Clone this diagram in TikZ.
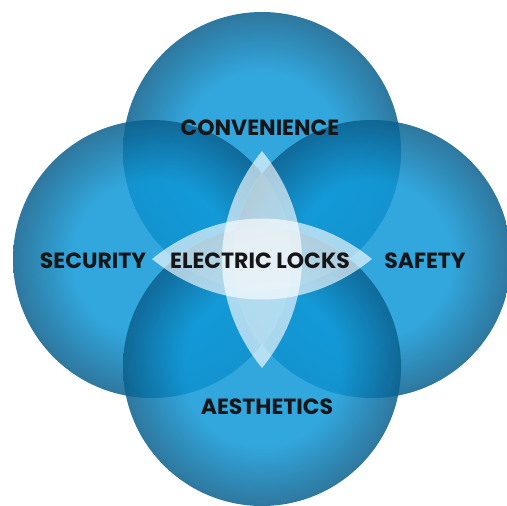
\documentclass[tikz,border=0pt]{standalone}
\usepackage{fontspec}
\setmainfont{Poppins}
\definecolor{ballmid}{RGB}{14,152,216}
\definecolor{balledge}{RGB}{10,96,142}
\definecolor{labeltext}{RGB}{22,22,24}
\pgfdeclareradialshading{ballshade}{\pgfpoint{0bp}{0bp}}{color(0bp)=(ballmid); color(14bp)=(ballmid); color(25bp)=(balledge); color(50bp)=(balledge)}
\tikzset{
  ball/.style={shading=ballshade, fill opacity=.85},
  lens/.style={fill=white, fill opacity=.64},
  word/.style={text=labeltext, font=\bfseries\fontsize{22}{22}\selectfont, inner sep=0pt}
}

\begin{document}
\begin{tikzpicture}[x=1pt,y=-1pt]
      \useasboundingbox (0,0) rectangle (507,506);
      % four circles
      \shade[ball] (262,151) circle(139);
      \shade[ball] (152,259) circle(139);
      \shade[ball] (372,259) circle(139);
      \shade[ball] (262,367) circle(139);
      % the two lenses in the middle
      \coordinate (vtop) at (262,151);
      \coordinate (vbot) at (262,368);
      \coordinate (hleft) at (152,259);
      \coordinate (hright) at (372,259);
      \fill[lens] (vtop) to[bend left=39] (vbot) to[bend left=39] (vtop);
      \fill[lens] (hleft) to[bend left=39] (hright) to[bend left=39] (hleft);
      \fill[white, fill opacity=.12] (262,172) to[bend left=36] (262,347) to[bend left=36] (262,172);
      \fill[white, fill opacity=.12] (172,259) to[bend left=36] (352,259) to[bend left=36] (172,259);
      % labels
      \node[word] (conv) at (260,128) {CONVENIENCE};
      \node[word] (secu) at (93,261) {SECURITY};
      \node[word] (lock) at (260,261) {ELECTRIC LOCKS};
      \node[word] (safe) at (425,261) {SAFETY};
      \node[word] (aest) at (267,407) {AESTHETICS};
    \end{tikzpicture}
\end{document}
